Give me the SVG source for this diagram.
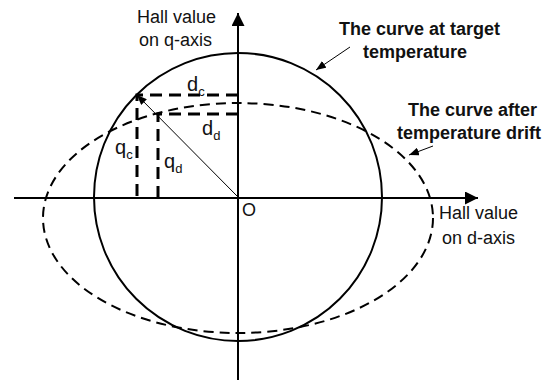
<svg xmlns="http://www.w3.org/2000/svg" width="555" height="380" viewBox="0 0 555 380">
<style>
text{font-family:"Liberation Sans",Arial,sans-serif;font-size:18px;fill:#111}
.b{font-weight:bold}
.v{font-size:20px}
.sub{font-size:13px}
.ax{stroke:#000;stroke-width:2;fill:none}
.dash{stroke:#000;stroke-width:3;fill:none;stroke-dasharray:12 7}
.thin{stroke:#000;stroke-width:1;fill:none}
</style>
<defs>
<marker id="big" markerWidth="13" markerHeight="13" refX="13" refY="6.5" orient="auto" markerUnits="userSpaceOnUse"><path d="M0,0 L13,6.5 L0,13 Z" fill="#000"/></marker>
<marker id="sm" markerWidth="10" markerHeight="8" refX="10" refY="4" orient="auto" markerUnits="userSpaceOnUse"><path d="M0,0 L10,4 L0,8 Z" fill="#000"/></marker>
</defs>
<rect width="555" height="380" fill="#fff"/>
<g id="curves">
<circle id="target-curve" cx="238" cy="197" r="144" class="ax"/>
<ellipse id="drift-curve" cx="238" cy="218" rx="195" ry="115" fill="none" stroke="#000" stroke-width="2" stroke-dasharray="10 6"/>
</g>
<g id="connectors">
<line class="ax" x1="238" y1="380" x2="238" y2="13" marker-end="url(#big)"/>
<line class="ax" x1="14" y1="198" x2="478" y2="198" marker-end="url(#big)"/>
<polyline class="dash" points="238,95 137,95 137,198"/>
<polyline class="dash" points="238,114 158,114 158,198"/>
<line class="thin" x1="238" y1="197" x2="137" y2="95" marker-end="url(#sm)"/>
<line class="thin" x1="350" y1="47" x2="316" y2="70" marker-end="url(#sm)"/>
<line class="thin" x1="433" y1="146" x2="409" y2="155" marker-end="url(#sm)"/>
</g>
<g id="labels">
<text x="137" y="23">Hall value</text>
<text x="139" y="46">on q-axis</text>
<text x="439" y="219">Hall value</text>
<text x="442" y="244">on d-axis</text>
<text class="b" x="339" y="35">The curve at target</text>
<text class="b" x="363" y="58">temperature</text>
<text class="b" x="408" y="116">The curve after</text>
<text class="b" x="397" y="139">temperature drift</text>
<text x="242" y="216">O</text>
<text class="v" x="187" y="91">d<tspan class="sub" dy="5">c</tspan></text>
<text class="v" x="202" y="135">d<tspan class="sub" dy="5">d</tspan></text>
<text class="v" x="115" y="154">q<tspan class="sub" dy="5">c</tspan></text>
<text class="v" x="164" y="168">q<tspan class="sub" dy="5">d</tspan></text>
</g>
</svg>
